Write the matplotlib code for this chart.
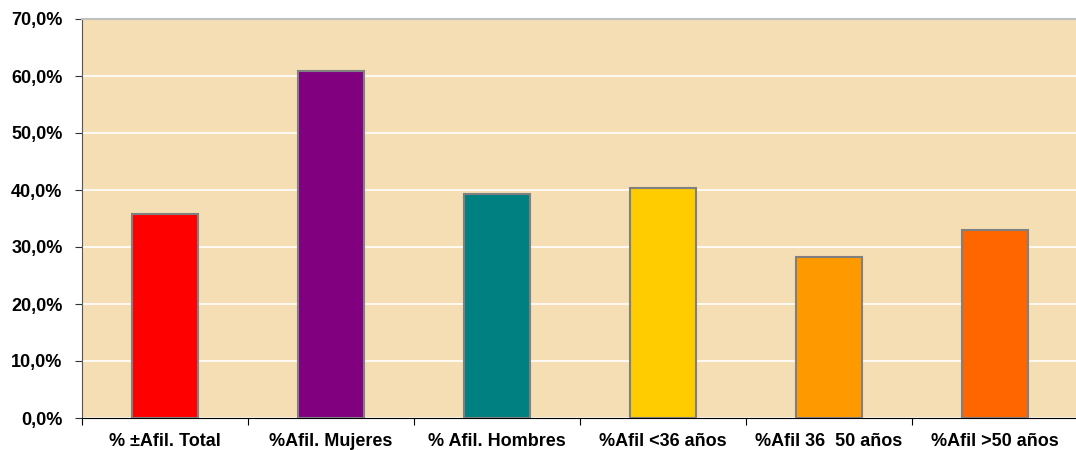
import numpy as np
import matplotlib.pyplot as plt
from matplotlib.ticker import FuncFormatter

categorias = ['% ±Afil. Total', '%Afil. Mujeres', '% Afil. Hombres',
              '%Afil <36 años', '%Afil 36  50 años', '%Afil >50 años']
valores = [35.8, 60.9, 39.3, 40.3, 28.2, 33.0]
colores = ['#FF0000', '#800080', '#008080', '#FFCC00', '#FF9900', '#FF6600']

plt.rcParams['font.family'] = ['Liberation Sans', 'DejaVu Sans']

fig = plt.figure(figsize=(10.76, 4.5), dpi=100)
ax = fig.add_axes([82 / 1076, 1 - 418 / 450, (1078 - 82) / 1076, (418 - 19) / 450])
ax.set_facecolor('#F5DEB3')

x = np.arange(len(categorias))
ax.bar(x, valores, width=0.4, color=colores, edgecolor='#808080', linewidth=1.5, zorder=3)

ax.set_ylim(0, 70)
ax.set_xlim(-0.5, len(categorias) - 0.5)
ax.set_yticks(np.arange(0, 71, 10))
ax.yaxis.set_major_formatter(FuncFormatter(lambda v, p: f'{v:.1f}%'.replace('.', ',')))
ax.yaxis.grid(True, color='white', linewidth=1.2, zorder=1)

# category labels between boundary ticks
ax.set_xticks(np.arange(-0.5, len(categorias)))
ax.set_xticklabels([])
ax.set_xticks(x, minor=True)
ax.set_xticklabels(categorias, minor=True)
ax.tick_params(axis='x', which='minor', length=0, pad=11)
ax.tick_params(axis='x', which='major', length=5, direction='out', color='black')
ax.tick_params(axis='y', length=5, color='#333333', pad=9)
for lab in ax.get_xticklabels(minor=True) + ax.get_yticklabels():
    lab.set_fontweight('bold')
    lab.set_fontsize(13)

ax.spines['top'].set_color('#C0C0C0')
ax.spines['top'].set_linewidth(1.5)
ax.spines['right'].set_visible(False)
ax.spines['left'].set_color('#555555')
ax.spines['bottom'].set_color('black')

fig.savefig('out.png', dpi=100)
